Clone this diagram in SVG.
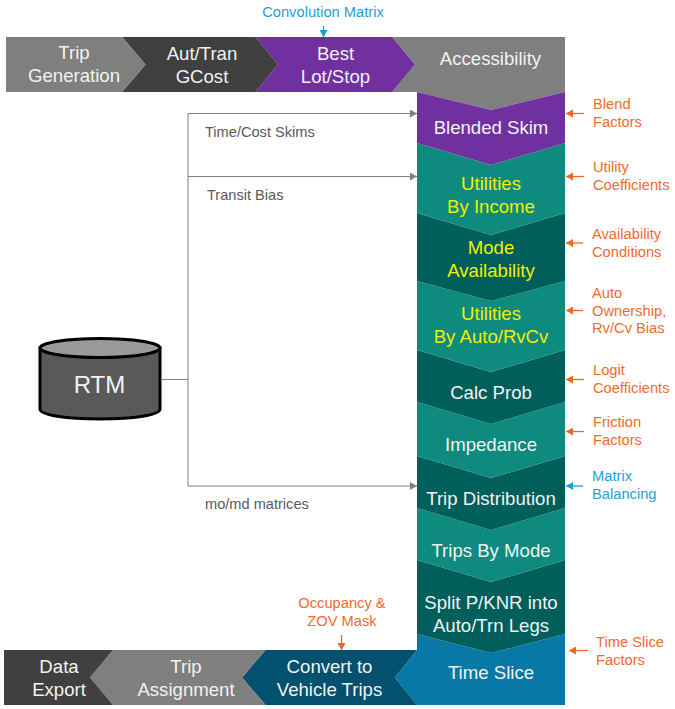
<svg xmlns="http://www.w3.org/2000/svg" width="675" height="709" viewBox="0 0 675 709">
<style>
text{font-family:"Liberation Sans",Arial,sans-serif;text-anchor:middle}
.w{fill:#f2f2f2;font-size:18.6px}
.y{fill:#f0f000;font-size:18.6px}
.o{fill:#f26a2e;font-size:14.7px;text-anchor:start}
.b{fill:#1f9fd8;font-size:14.7px;text-anchor:start}
.l{fill:#595959;font-size:14.6px;text-anchor:start}
.c{fill:none;stroke:#7f7f7f;stroke-width:1}
.oa{stroke:#f26522;stroke-width:1.3;fill:none}
.ba{stroke:#1f9fd8;stroke-width:1.3;fill:none}
</style>
<defs>
<marker id="mg" markerUnits="userSpaceOnUse" markerWidth="8" markerHeight="8" refX="7" refY="4" orient="auto"><path d="M0 0L7 4L0 8Z" fill="#7f7f7f"/></marker>
<marker id="mo" markerUnits="userSpaceOnUse" markerWidth="8" markerHeight="8" refX="7" refY="4" orient="auto"><path d="M0 0L7 4L0 8Z" fill="#f26522"/></marker>
<marker id="mb" markerUnits="userSpaceOnUse" markerWidth="8" markerHeight="8" refX="7" refY="4" orient="auto"><path d="M0 0L7 4L0 8Z" fill="#1f9fd8"/></marker>
</defs>

<g id="accessibility"><path d="M392 37H565V92L491 110L417 92H392L415 64.500Z" fill="#7f7f7f"/><text class="w" x="490.500" y="65">Accessibility</text></g>
<g id="best-lot"><path d="M255.500 37H392L415 64.500L392 92H255.500L278 64.500Z" fill="#7030a0"/><text class="w" x="335.500" y="60">Best</text><text class="w" x="335.500" y="83">Lot/Stop</text></g>
<g id="aut-tran"><path d="M122 37H255.500L278 64.500L255.500 92H122L145.500 64.500Z" fill="#404040"/><text class="w" x="202" y="60">Aut/Tran</text><text class="w" x="202" y="83">GCost</text></g>
<g id="trip-generation"><path d="M6 37H122L145.500 64.500L122 92H6Z" fill="#7f7f7f"/><text class="w" x="74" y="59">Trip</text><text class="w" x="74" y="82">Generation</text></g>

<g id="time-slice"><path d="M417 634L491 653L565 634V705H417L395 677.500L417 650Z" fill="#0878a6"/><text class="w" x="491" y="679">Time Slice</text></g>
<g id="split"><path d="M417 560L491 582L565 560V634L491 653L417 634Z" fill="#005f5a"/><text class="w" x="491" y="609">Split P/KNR into</text><text class="w" x="491" y="632">Auto/Trn Legs</text></g>
<g id="trips-by-mode"><path d="M417 508L491 530L565 508V560L491 582L417 560Z" fill="#0e8a7e"/><text class="w" x="491" y="557">Trips By Mode</text></g>
<g id="trip-distribution"><path d="M417 456L491 478L565 456V508L491 530L417 508Z" fill="#005f5a"/><text class="w" x="491" y="505">Trip Distribution</text></g>
<g id="impedance"><path d="M417 402L491 424L565 402V456L491 478L417 456Z" fill="#0e8a7e"/><text class="w" x="491" y="451">Impedance</text></g>
<g id="calc-prob"><path d="M417 350L491 372L565 350V402L491 424L417 402Z" fill="#005f5a"/><text class="w" x="491" y="399">Calc Prob</text></g>
<g id="utilities-auto"><path d="M417 281L491 301L565 281V350L491 372L417 350Z" fill="#0e8a7e"/><text class="y" x="491" y="320">Utilities</text><text class="y" x="491" y="343">By Auto/RvCv</text></g>
<g id="mode-availability"><path d="M417 213L491 235L565 213V281L491 301L417 281Z" fill="#005f5a"/><text class="y" x="491" y="254">Mode</text><text class="y" x="491" y="277">Availability</text></g>
<g id="utilities-income"><path d="M417 143L491 165L565 143V213L491 235L417 213Z" fill="#0e8a7e"/><text class="y" x="491" y="190">Utilities</text><text class="y" x="491" y="213">By Income</text></g>
<g id="blended-skim"><path d="M417 92L491 110L565 92V143L491 165L417 143Z" fill="#7030a0"/><text class="w" x="491" y="134">Blended Skim</text></g>

<g id="convert"><path d="M265.500 650H417L395 677.500L417 705H265.500L242 677.500Z" fill="#04506f"/><text class="w" x="329.500" y="673">Convert to</text><text class="w" x="329.500" y="696">Vehicle Trips</text></g>
<g id="trip-assignment"><path d="M113 650H265.500L242 677.500L265.500 705H113L90 677.500Z" fill="#7f7f7f"/><text class="w" x="186" y="673">Trip</text><text class="w" x="186" y="696">Assignment</text></g>
<g id="data-export"><path d="M4 650H113L90 677.500L113 705H4Z" fill="#404040"/><text class="w" x="59" y="673">Data</text><text class="w" x="59" y="696">Export</text></g>

<g id="rtm">
<path d="M40 348V409C40 415 66 419 100 419C134 419 160 415 160 409V348Z" fill="#595959" stroke="#000" stroke-width="3"/>
<ellipse cx="100" cy="348" rx="60" ry="9.500" fill="#999" stroke="#000" stroke-width="3"/>
<text x="99.500" y="393" fill="#f2f2f2" font-size="24">RTM</text>
</g>

<g id="connectors">
<path class="c" d="M161 379.500H188"/>
<path class="c" d="M188 379V113.500H417" marker-end="url(#mg)"/>
<path class="c" d="M188 176.500H417" marker-end="url(#mg)"/>
<path class="c" d="M188 379V486H417" marker-end="url(#mg)"/>
<path class="ba" d="M323.500 26V37" marker-end="url(#mb)"/>
<path class="oa" d="M584 113.500H566" marker-end="url(#mo)"/>
<path class="oa" d="M584 176.500H566" marker-end="url(#mo)"/>
<path class="oa" d="M583 243H566" marker-end="url(#mo)"/>
<path class="oa" d="M583 310.500H566" marker-end="url(#mo)"/>
<path class="oa" d="M584 379.500H566" marker-end="url(#mo)"/>
<path class="oa" d="M584 431.500H566" marker-end="url(#mo)"/>
<path class="ba" d="M583 486H566" marker-end="url(#mb)"/>
<path class="oa" d="M588 650.500H569" marker-end="url(#mo)"/>
<path class="oa" d="M341.500 635V650" marker-end="url(#mo)"/>
</g>

<g id="labels">
<text x="323" y="17" fill="#1f9fd8" font-size="14.700">Convolution Matrix</text>
<text class="l" x="205" y="137">Time/Cost Skims</text>
<text class="l" x="207" y="200">Transit Bias</text>
<text class="l" x="205" y="509">mo/md matrices</text>
<text class="o" x="593" y="109">Blend</text><text class="o" x="593" y="127">Factors</text>
<text class="o" x="593" y="172">Utility</text><text class="o" x="593" y="190">Coefficients</text>
<text class="o" x="592" y="239">Availability</text><text class="o" x="592" y="257">Conditions</text>
<text class="o" x="592" y="298">Auto</text><text class="o" x="592" y="316">Ownership,</text><text class="o" x="592" y="333">Rv/Cv Bias</text>
<text class="o" x="593" y="375">Logit</text><text class="o" x="593" y="393">Coefficients</text>
<text class="o" x="593" y="427">Friction</text><text class="o" x="593" y="445">Factors</text>
<text class="b" x="592" y="481">Matrix</text><text class="b" x="592" y="499">Balancing</text>
<text class="o" x="596" y="647">Time Slice</text><text class="o" x="596" y="665">Factors</text>
<text x="342" y="608" fill="#f26a2e" font-size="14.700">Occupancy &amp;</text><text x="342" y="626" fill="#f26a2e" font-size="14.700">ZOV Mask</text>
</g>
</svg>
